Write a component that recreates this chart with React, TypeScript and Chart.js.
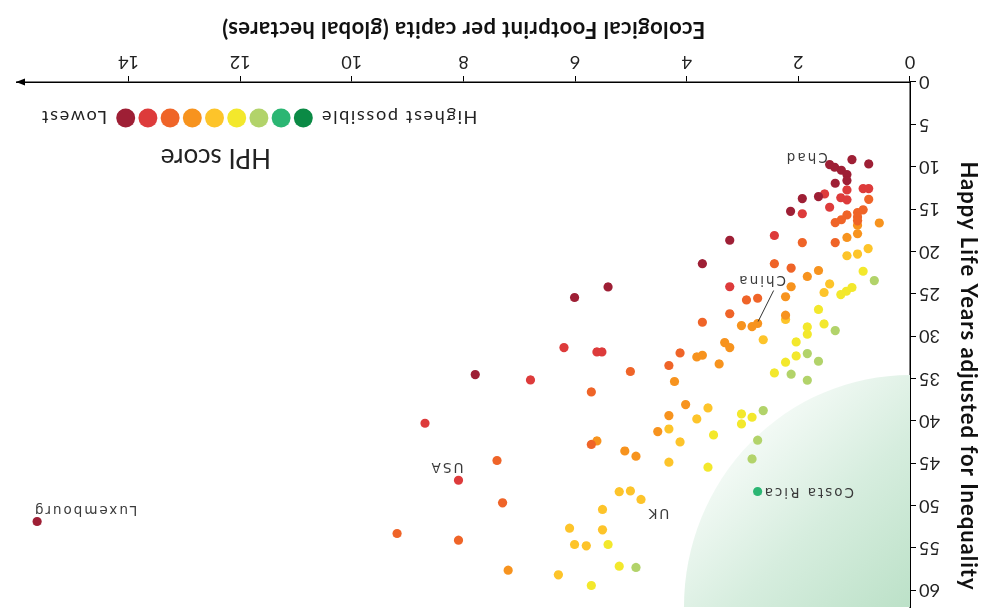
import React, { useEffect, useRef } from 'react';
import { Chart, registerables } from 'chart.js';
Chart.register(...registerables);

// HPI score colours, lowest -> highest possible
const hpiColours = ['#9e1f35', '#dd3b3b', '#ef6428', '#f7931e', '#fdc42a', '#f3e82c', '#b2d36a', '#2bb673', '#0b8a45'];

// [Ecological Footprint (gha), Happy Life Years adjusted for inequality] per HPI band
const band1 = [[1.04, 9.16], [0.74, 9.68], [1.44, 9.75], [1.35, 10.07], [1.23, 10.42], [1.13, 10.93], [1.13, 11.64], [1.34, 11.96], [1.64, 13.53], [1.93, 13.77], [2.14, 15.27], [3.23, 18.69], [3.72, 21.46], [5.41, 24.2], [6.01, 25.45], [7.79, 34.55], [15.64, 51.9]];
const band2 = [[1.13, 12.75], [0.84, 12.59], [0.74, 12.59], [1.53, 13.22], [1.24, 13.67], [1.13, 13.91], [1.44, 14.79], [1.93, 15.56], [2.43, 18.13], [3.23, 24.18], [6.2, 31.36], [5.61, 31.88], [5.52, 31.88], [6.8, 35.18], [8.69, 40.3], [8.09, 47.03]];
const band3 = [[0.74, 13.85], [0.84, 15.09], [0.94, 15.42], [0.94, 15.94], [0.94, 16.39], [1.13, 15.7], [1.23, 16.27], [1.34, 16.6], [1.93, 18.96], [1.34, 18.96], [2.43, 21.46], [2.13, 21.97], [2.93, 25.74], [2.73, 25.54], [3.23, 27.37], [3.72, 28.37], [4.12, 32.0], [4.32, 33.48], [5.01, 34.19], [5.71, 36.6], [5.71, 42.8], [7.4, 44.7], [7.3, 49.7], [9.19, 53.32], [8.09, 54.11]];
const band4 = [[0.94, 16.92], [0.55, 16.65], [1.13, 18.36], [0.94, 17.92], [1.64, 22.26], [1.84, 22.96], [2.13, 24.18], [2.23, 25.36], [2.23, 27.54], [3.02, 28.76], [2.83, 28.88], [2.73, 28.52], [3.32, 30.77], [3.23, 31.36], [3.82, 32.47], [3.72, 32.27], [3.42, 33.29], [4.22, 35.37], [4.02, 38.09], [4.32, 39.39], [4.52, 41.28], [5.61, 42.39], [5.11, 43.58], [4.91, 44.19], [7.2, 57.65]];
const band5 = [[0.75, 19.67], [1.13, 20.52], [0.94, 20.32], [1.44, 23.85], [1.54, 24.86], [2.23, 28.05], [2.63, 30.44], [3.62, 38.49], [3.82, 39.79], [4.32, 40.98], [4.12, 42.5], [4.32, 44.9], [5.21, 48.38], [5.01, 48.29], [4.82, 49.3], [5.51, 50.48], [6.1, 52.69], [5.51, 52.89], [6.01, 54.62], [5.8, 54.78], [6.3, 58.2]];
const band6 = [[0.84, 22.35], [1.24, 25.1], [1.14, 24.71], [1.04, 24.27], [1.64, 26.86], [1.84, 28.93], [1.84, 29.79], [1.54, 28.57], [2.04, 30.7], [2.04, 32.35], [2.23, 33.09], [2.43, 34.36], [3.02, 39.2], [2.83, 39.59], [3.02, 40.38], [3.52, 41.68], [3.62, 45.49], [5.41, 54.62], [5.21, 57.18], [5.71, 59.46]];
const band7 = [[0.64, 23.45], [1.34, 29.35], [1.84, 32.07], [1.64, 32.98], [2.13, 34.51], [1.84, 35.22], [2.63, 38.8], [2.73, 42.3], [2.83, 44.51], [4.91, 57.33]];
const band8 = [[2.73, 48.36]];
const band9: number[][] = [];
const bands = [band1, band2, band3, band4, band5, band6, band7, band8, band9];

// labelled countries
const countryNames = ['Chad', 'China', 'Costa Rica', 'USA', 'UK', 'Luxembourg'];
const countryFootprint = [1.44, 2.73, 2.73, 8.09, 4.82, 15.64];
const countryHappyYears = [9.75, 28.52, 48.36, 47.03, 49.3, 51.9];

// axis ranges / ticks / texts
const xMax = 16;
const yMax = 62;
const xTicks = [0, 2, 4, 6, 8, 10, 12, 14];
const yTicks = [0, 5, 10, 15, 20, 25, 30, 35, 40, 45, 50, 55, 60];
const xTitle = 'Ecological Footprint per capita (global hectares)';
const yTitle = 'Happy Life Years adjusted for Inequality';
const legendTitle = 'HPI score';
const legendLow = 'Lowest';
const legendHigh = 'Highest possible';

// label placement styles (pixel offsets from the point, in the unrotated frame)
const labelStyle: Record<string, { dx: number; dy: number; align: CanvasTextAlign; leader?: number[] }> = {
  'Chad': { dx: 2, dy: 8, align: 'left' },
  'China': { dx: -4, dy: 44, align: 'center', leader: [-0.5, 2, -16, 33] },
  'Costa Rica': { dx: -5, dy: 0, align: 'right' },
  'USA': { dx: 12, dy: 14, align: 'center' },
  'UK': { dx: -17, dy: -13, align: 'center' },
  'Luxembourg': { dx: -48, dy: 12, align: 'center' },
};

const decorPlugin = {
  id: 'decor',
  beforeDatasetsDraw(chart: any) {
    const { ctx, chartArea, scales } = chart;
    const x = scales.x, y = scales.y;
    const cx = chartArea.left, cy = chartArea.top;
    const rx = x.getPixelForValue(4.05) - cx;
    const ry = y.getPixelForValue(34.6) - cy;
    ctx.save();
    ctx.beginPath();
    ctx.moveTo(cx, cy);
    ctx.ellipse(cx, cy, rx, ry, 0, 0, Math.PI / 2);
    ctx.closePath();
    const g = ctx.createLinearGradient(cx, cy, cx + rx * 0.85, cy + ry * 0.85);
    g.addColorStop(0, 'rgb(188,225,200)');
    g.addColorStop(0.45, 'rgb(214,237,222)');
    g.addColorStop(1, 'rgba(255,255,255,1)');
    ctx.fillStyle = g;
    ctx.fill();
    ctx.restore();
  },
  afterDraw(chart: any) {
    const { ctx, chartArea, scales } = chart;
    const x = scales.x, y = scales.y;
    ctx.save();
    // arrow on x axis
    const ax = chartArea.right, ay = chartArea.bottom;
    ctx.fillStyle = '#000';
    ctx.beginPath();
    ctx.moveTo(ax + 1, ay);
    ctx.lineTo(ax - 8, ay - 3.6);
    ctx.lineTo(ax - 8, ay + 3.6);
    ctx.closePath();
    ctx.fill();

    // country labels
    ctx.font = '13.5px "DejaVu Sans"';
    (ctx as any).letterSpacing = '2px';
    ctx.fillStyle = '#3a3a3a';
    ctx.textBaseline = 'middle';
    countryNames.forEach((name, i) => {
      const px = x.getPixelForValue(countryFootprint[i]);
      const py = y.getPixelForValue(countryHappyYears[i]);
      const s = labelStyle[name];
      ctx.textAlign = s.align;
      ctx.fillText(name, px + s.dx, py + s.dy);
      if (s.leader) {
        ctx.strokeStyle = '#333';
        ctx.lineWidth = 1;
        ctx.beginPath();
        ctx.moveTo(px + s.leader[0], py + s.leader[1]);
        ctx.lineTo(px + s.leader[2], py + s.leader[3]);
        ctx.stroke();
      }
    });

    // axis titles
    ctx.fillStyle = '#111';
    ctx.font = 'bold 22px Lato';
    ctx.textAlign = 'center';
    (ctx as any).letterSpacing = '0.45px';
    ctx.fillText(xTitle, (chartArea.left + chartArea.right) / 2, 585);
    (ctx as any).letterSpacing = '1px';
    ctx.save();
    ctx.translate(14, 238);
    ctx.rotate(-Math.PI / 2);
    ctx.fillText(yTitle, 0, 0);
    ctx.restore();

    // legend
    const ly = 496;
    const step = 22.2;
    const x0 = 856.3;
    hpiColours.forEach((c, i) => {
      ctx.fillStyle = c;
      ctx.beginPath();
      ctx.arc(x0 - i * step, ly, 9.5, 0, Math.PI * 2);
      ctx.fill();
    });
    ctx.fillStyle = '#222';
    ctx.font = '18px Lato';
    (ctx as any).letterSpacing = '1.7px';
    ctx.textAlign = 'left';
    ctx.fillText(legendLow, x0 + 18.7, ly + 1);
    ctx.textAlign = 'right';
    ctx.fillText(legendHigh, x0 - 8 * step - 17, ly + 1);
    (ctx as any).letterSpacing = '0px';
    ctx.font = '26px Lato';
    ctx.textAlign = 'center';
    ctx.fillText(legendTitle, 766, 457);
    ctx.restore();
  },
};

export default function App() {
  const ref = useRef<HTMLCanvasElement>(null);
  useEffect(() => {
    const tickFont = { family: 'Lato', size: 18 };
    const chart = new Chart(ref.current as HTMLCanvasElement, {
      type: 'scatter',
      data: {
        datasets: bands.map((b, i) => ({
          label: `HPI ${i + 1}`,
          data: b.map(([fx, hy]) => ({ x: fx, y: hy })),
          backgroundColor: hpiColours[i],
          borderWidth: 0,
          pointRadius: 4.6,
          pointHoverRadius: 4.6,
        })),
      },
      options: {
        responsive: false,
        animation: false,
        devicePixelRatio: 1,
        layout: { padding: { top: 7, right: 17, left: 0, bottom: 0 } },
        plugins: { legend: { display: false }, tooltip: { enabled: false } },
        scales: {
          x: {
            type: 'linear',
            min: 0,
            max: xMax,
            afterBuildTicks: (s: any) => { s.ticks = xTicks.map((v) => ({ value: v })); },
            ticks: {
              callback: (v: any) => String(v),
              font: tickFont,
              color: '#222',
              padding: 3,
              maxRotation: 0,
            },
            grid: { drawOnChartArea: false, drawTicks: true, tickLength: 6, color: '#000', lineWidth: 1 },
            border: { display: true, color: '#000', width: 1.5 },
            afterFit: (s: any) => { s.height = 82; s.paddingLeft = 0; s.paddingRight = 0; },
          },
          y: {
            type: 'linear',
            min: 0,
            max: yMax,
            afterBuildTicks: (s: any) => { s.ticks = yTicks.map((v) => ({ value: v })); },
            ticks: {
              callback: (v: any) => String(v),
              font: tickFont,
              color: '#222',
              padding: 3,
            },
            grid: { drawOnChartArea: false, drawTicks: true, tickLength: 6, color: '#000', lineWidth: 1 },
            border: { display: true, color: '#000', width: 1.5 },
            afterFit: (s: any) => { s.width = 72; s.paddingTop = 0; s.paddingBottom = 0; },
          },
        },
      } as any,
      plugins: [decorPlugin],
    });
    return () => chart.destroy();
  }, []);
  return (
    <div style={{ position: 'fixed', left: 0, top: 0, width: 982, height: 614, transform: 'rotate(180deg)', background: '#fff' }}>
      <canvas ref={ref} width={982} height={614} style={{ display: 'block', width: 982, height: 614 }} />
    </div>
  );
}
